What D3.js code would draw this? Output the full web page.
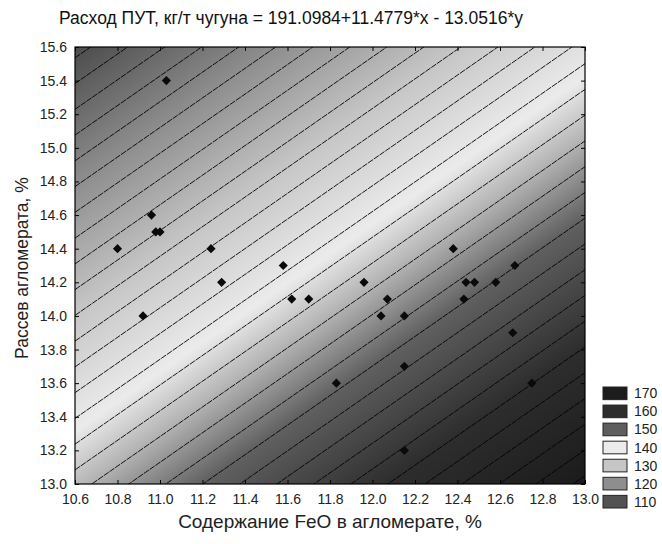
<!DOCTYPE html>
<html><head><meta charset="utf-8">
<script src="https://cdn.jsdelivr.net/npm/d3@7"></script>
<style>
html,body{margin:0;padding:0;background:#fff;}
text{font-family:"Liberation Sans",Arial,sans-serif;}
</style></head>
<body><svg id="c" width="662" height="544"></svg>
<script>
// model from title: z = b0 + b1*x + b2*y
const coef = [191.0984, 11.4779, -13.0516];
const titleText = "Расход ПУТ, кг/т чугуна = 191.0984+11.4779*x - 13.0516*y";
const xLabel = "Содержание FeO в агломерате, %";
const yLabel = "Рассев агломерата, %";
const xTicks = [10.6,10.8,11.0,11.2,11.4,11.6,11.8,12.0,12.2,12.4,12.6,12.8,13.0];
const yTicks = [13.0,13.2,13.4,13.6,13.8,14.0,14.2,14.4,14.6,14.8,15.0,15.2,15.4,15.6];
const legendLevels = [170,160,150,140,130,120,110];
const legendColors = ["#1c1c1c","#2d2d2d","#5e5e5e","#ebebeb","#c6c6c6","#8e8e8e","#525252"];
// shading stops of the smooth surface (z value -> grey)
const shadeZ = [110,120,130,139,144,150,160,170];
const shadeC = ["#505050","#8e8e8e","#c6c6c6","#ebebeb","#b0b0b0","#606060","#2d2d2d","#1c1c1c"];
const contourLevels = [110,112,114,116,118,120,122,124,126,128,130,132,134,136,138,140,142,144,146,148,150,152,154,156,158,160,162,164,166,168,170];
const feo = [11.03,10.96,10.98,11.00,10.80,11.24,11.29,10.92,11.58,11.62,11.70,11.96,12.07,12.04,12.15,12.38,12.44,12.48,12.43,12.58,12.67,12.66,12.15,11.83,12.75,12.15];
const rassev = [15.4,14.6,14.5,14.5,14.4,14.4,14.2,14.0,14.3,14.1,14.1,14.2,14.1,14.0,14.0,14.4,14.2,14.2,14.1,14.2,14.3,13.9,13.7,13.6,13.6,13.2];

const svg = d3.select("#c");
const L=75,R=585,T=47,B=484;
const x = d3.scaleLinear().domain([10.6,13.0]).range([L,R]);
const y = d3.scaleLinear().domain([13.0,15.6]).range([B,T]);
const zf = (a,b)=>coef[0]+coef[1]*a+coef[2]*b;

const defs = svg.append("defs");
defs.append("clipPath").attr("id","clip").append("rect")
  .attr("x",L).attr("y",T).attr("width",R-L).attr("height",B-T);

// gradient along direction of steepest increase of z in pixel space
const gx = coef[1]/(x(1)-x(0));
const gy = coef[2]/(y(1)-y(0));
const g2 = gx*gx+gy*gy;
const cx=(L+R)/2, cy=(T+B)/2;
const zc = zf(x.invert(cx), y.invert(cy));
const zLo = 108, zHi = 172;
const pt = z=>{const t=(z-zc)/g2; return [cx+t*gx, cy+t*gy];};
const p0=pt(zLo), p1=pt(zHi);
const grad = defs.append("linearGradient").attr("id","surf")
  .attr("gradientUnits","userSpaceOnUse")
  .attr("x1",p0[0]).attr("y1",p0[1]).attr("x2",p1[0]).attr("y2",p1[1]);
const stopScale = d3.scaleLinear().domain([zLo,zHi]).range([0,1]);
grad.append("stop").attr("offset",0).attr("stop-color",shadeC[0]);
shadeZ.forEach((v,i)=>grad.append("stop").attr("offset",stopScale(v)).attr("stop-color",shadeC[i]));
grad.append("stop").attr("offset",1).attr("stop-color",shadeC[shadeC.length-1]);

svg.append("rect").attr("x",L).attr("y",T).attr("width",R-L).attr("height",B-T)
  .attr("fill","url(#surf)");

// contour lines (straight since surface is a plane)
const gLines = svg.append("g").attr("clip-path","url(#clip)");
const xd = x.domain();
contourLevels.forEach(lv=>{
  const ya = (lv-coef[0]-coef[1]*xd[0])/coef[2];
  const yb = (lv-coef[0]-coef[1]*xd[1])/coef[2];
  gLines.append("line")
    .attr("x1",x(xd[0])).attr("y1",y(ya)).attr("x2",x(xd[1])).attr("y2",y(yb))
    .attr("stroke","#000").attr("stroke-width",0.9)
    .attr("stroke-dasharray","6,1");
});

// points
const sym = d3.symbol().type(d3.symbolSquare).size(42);
svg.append("g").selectAll("path").data(feo.map((v,i)=>[v,rassev[i]])).join("path")
  .attr("d",sym)
  .attr("transform",d=>`translate(${x(d[0])},${y(d[1])}) rotate(45)`)
  .attr("fill","#0a0a0a");

// frame
svg.append("rect").attr("x",L).attr("y",T).attr("width",R-L).attr("height",B-T)
  .attr("fill","none").attr("stroke","#000").attr("stroke-width",1.2);

// axes with inner ticks
const fmt = d3.format(".1f");
svg.append("g").attr("transform",`translate(0,${B})`)
  .call(d3.axisBottom(x).tickValues(xTicks).tickFormat(fmt).tickSizeInner(-4).tickSizeOuter(0).tickPadding(10));
svg.append("g").attr("transform",`translate(${L},0)`)
  .call(d3.axisLeft(y).tickValues(yTicks).tickFormat(fmt).tickSizeInner(-4).tickSizeOuter(0).tickPadding(8));
svg.append("g").attr("transform",`translate(0,${T})`)
  .call(d3.axisTop(x).tickValues(xTicks).tickFormat("").tickSizeInner(-4).tickSizeOuter(0));
svg.append("g").attr("transform",`translate(${R},0)`)
  .call(d3.axisRight(y).tickValues(yTicks).tickFormat("").tickSizeInner(-4).tickSizeOuter(0));
svg.selectAll(".domain").remove();
svg.selectAll(".tick line").attr("stroke","#000");
svg.selectAll(".tick text").attr("font-size",14).attr("fill","#222")
  .attr("font-family","'Liberation Sans',Arial,sans-serif");

// titles
svg.append("text").attr("x",291).attr("y",24).attr("text-anchor","middle")
  .attr("font-size",17.5).attr("fill","#111").text(titleText);
svg.append("text").attr("x",330).attr("y",528).attr("text-anchor","middle")
  .attr("font-size",19).attr("fill","#222").text(xLabel);
svg.append("text").attr("transform","translate(28,268) rotate(-90)").attr("text-anchor","middle")
  .attr("font-size",17.5).attr("fill","#222").text(yLabel);

// legend
const lg = svg.append("g");
const ly = d3.scaleBand().domain(legendLevels).range([387,508]).paddingInner(0.3);
lg.selectAll("rect").data(legendLevels).join("rect")
  .attr("x",603).attr("y",d=>ly(d)).attr("width",24).attr("height",ly.bandwidth())
  .attr("fill",(d,i)=>legendColors[i]).attr("stroke","#222").attr("stroke-width",1);
lg.selectAll("text").data(legendLevels).join("text")
  .attr("x",634).attr("y",d=>ly(d)+ly.bandwidth()/2).attr("dy","0.36em")
  .attr("font-size",14).attr("fill","#222").text(d=>d);
</script></body></html>
